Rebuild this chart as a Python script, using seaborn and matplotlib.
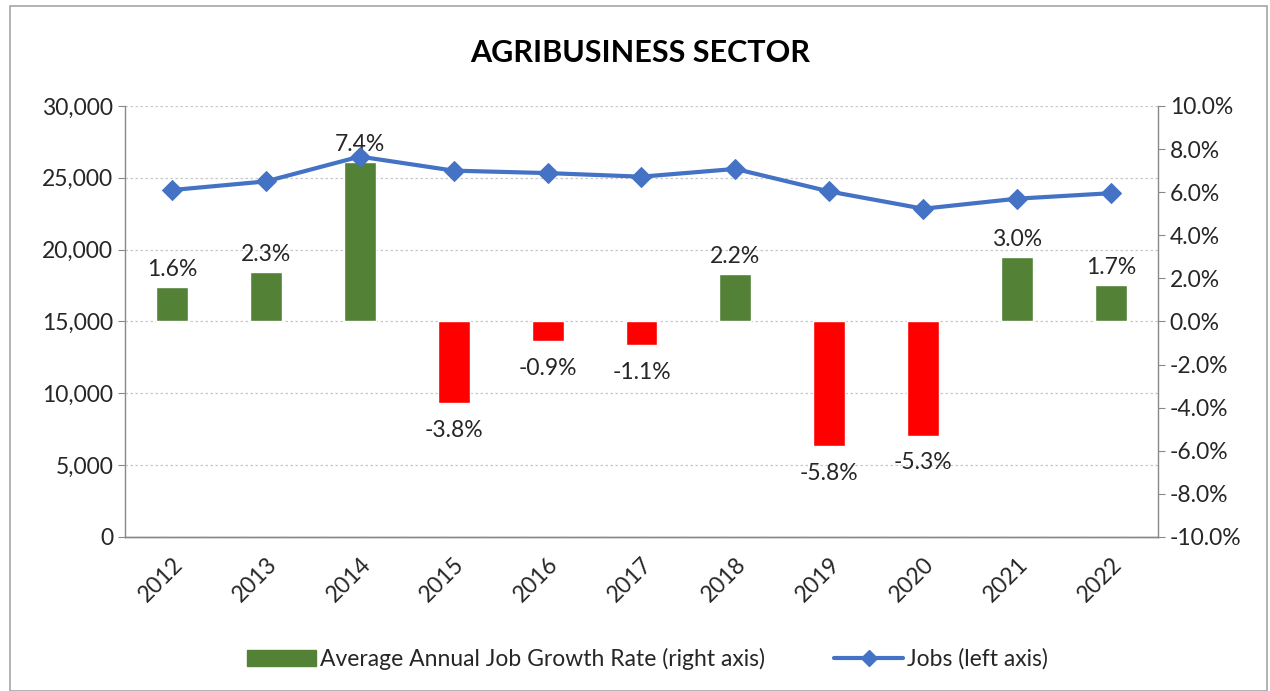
import numpy as np
import pandas as pd
import matplotlib.pyplot as plt
import seaborn as sns
from matplotlib.patches import Patch, Rectangle
from matplotlib.lines import Line2D
from matplotlib.ticker import FuncFormatter, MultipleLocator

# Data
years = ['2012', '2013', '2014', '2015', '2016', '2017', '2018', '2019', '2020', '2021', '2022']
jobs = [24150, 24750, 26480, 25500, 25330, 25080, 25620, 24050, 22850, 23550, 23930]
growth = [1.6, 2.3, 7.4, -3.8, -0.9, -1.1, 2.2, -5.8, -5.3, 3.0, 1.7]

df = pd.DataFrame({'Year': years, 'Jobs': jobs, 'Growth': growth})
df['Sign'] = np.where(df['Growth'] >= 0, 'pos', 'neg')
df['pos_idx'] = np.arange(len(df))

green = '#538135'
red = '#FF0000'
blue = '#4472C4'
axis_grey = '#898989'
text_col = '#262626'
fs = 16.5

sns.set_style('white')
plt.rcParams['font.family'] = ['Lato', 'DejaVu Sans']

fig = plt.figure(figsize=(12.7, 6.91), dpi=100)
ax1 = fig.add_axes([0.0984, 0.2229, 0.8134, 0.6237])

# left axis: grid + jobs scale
ax1.set_xlim(-0.5, len(years) - 0.5)
ax1.set_ylim(0, 30000)
ax1.yaxis.set_major_locator(MultipleLocator(5000))
ax1.yaxis.set_major_formatter(FuncFormatter(lambda v, p: f'{int(v):,}'))
ax1.grid(axis='y', color='#C8C8C8', linestyle=(0, (2, 2)), linewidth=0.9)
ax1.set_axisbelow(True)

# right axis: bars
ax2 = ax1.twinx()
sns.barplot(data=df, x='Year', y='Growth', hue='Sign',
            palette={'pos': green, 'neg': red}, dodge=False, width=0.34,
            legend=False, ax=ax2, saturation=1)
ax2.set_xlim(-0.5, len(years) - 0.5)
ax2.set_ylim(-10, 10)
ax2.yaxis.set_major_locator(MultipleLocator(2))
ax2.yaxis.set_major_formatter(FuncFormatter(lambda v, p: f'{v:.1f}%'))
ax2.set_xlabel('')
ax2.set_ylabel('')

for i, g in enumerate(growth):
    if g >= 0:
        ax2.annotate(f'{g:.1f}%', (i, g), xytext=(0, 5), textcoords='offset points',
                     ha='center', va='bottom', fontsize=fs, color=text_col)
    else:
        ax2.annotate(f'{g:.1f}%', (i, g), xytext=(0, -12), textcoords='offset points',
                     ha='center', va='top', fontsize=fs, color=text_col)

# line layer on top, same scale as left axis
ax3 = ax1.twinx()
ax3.set_ylim(0, 30000)
sns.lineplot(data=df, x='pos_idx', y='Jobs', color=blue, linewidth=3,
             marker='D', markersize=10, markeredgecolor=blue, ax=ax3, sort=False)
ax3.set_xlim(-0.5, len(years) - 0.5)
ax3.axis('off')

# ticks / spines
ax1.set_xticks(range(len(years)))
ax1.set_xticklabels(years, rotation=45, ha='right', rotation_mode='anchor')
ax1.set_xticks(np.arange(-0.5, len(years)), minor=True)
ax1.tick_params(axis='x', which='major', length=0, pad=12, labelsize=fs, labelcolor=text_col)
ax1.tick_params(axis='x', which='minor', length=6, color=axis_grey, direction='out')
ax1.tick_params(axis='y', length=5, color=axis_grey, labelsize=fs, labelcolor=text_col, left=True)
ax2.tick_params(axis='y', length=5, color=axis_grey, labelsize=fs, labelcolor=text_col, right=True)
ax2.tick_params(axis='x', length=0, labelbottom=False)
for ax in (ax1, ax2):
    for s in ['left', 'right', 'bottom']:
        ax.spines[s].set_color(axis_grey)
        ax.spines[s].set_linewidth(1)
    ax.spines['top'].set_visible(False)
ax1.spines['right'].set_visible(False)
ax2.spines['left'].set_visible(False)
ax1.set_xlabel('')
ax1.set_ylabel('')

fig.text(0.504, 0.924, 'AGRIBUSINESS SECTOR', ha='center', va='center',
         fontsize=22, fontweight='bold', color='black')

handles = [Patch(facecolor=green, edgecolor=green),
           Line2D([0], [0], color=blue, linewidth=3, marker='D', markersize=8)]
labels = ['Average Annual Job Growth Rate (right axis)', 'Jobs (left axis)']
fig.legend(handles, labels, loc='center', bbox_to_anchor=(0.51, 0.047), ncol=2,
           frameon=False, fontsize=fs, handlelength=3.0, handletextpad=0.2,
           columnspacing=3.0, labelcolor=text_col)

# chart border
fig.patches.append(Rectangle((10 / 1270, 0.0), 1257 / 1270, 1 - 6 / 691,
                             transform=fig.transFigure, fill=False,
                             edgecolor='#A6A6A6', linewidth=1.2))

fig.savefig('out.png', dpi=100)
